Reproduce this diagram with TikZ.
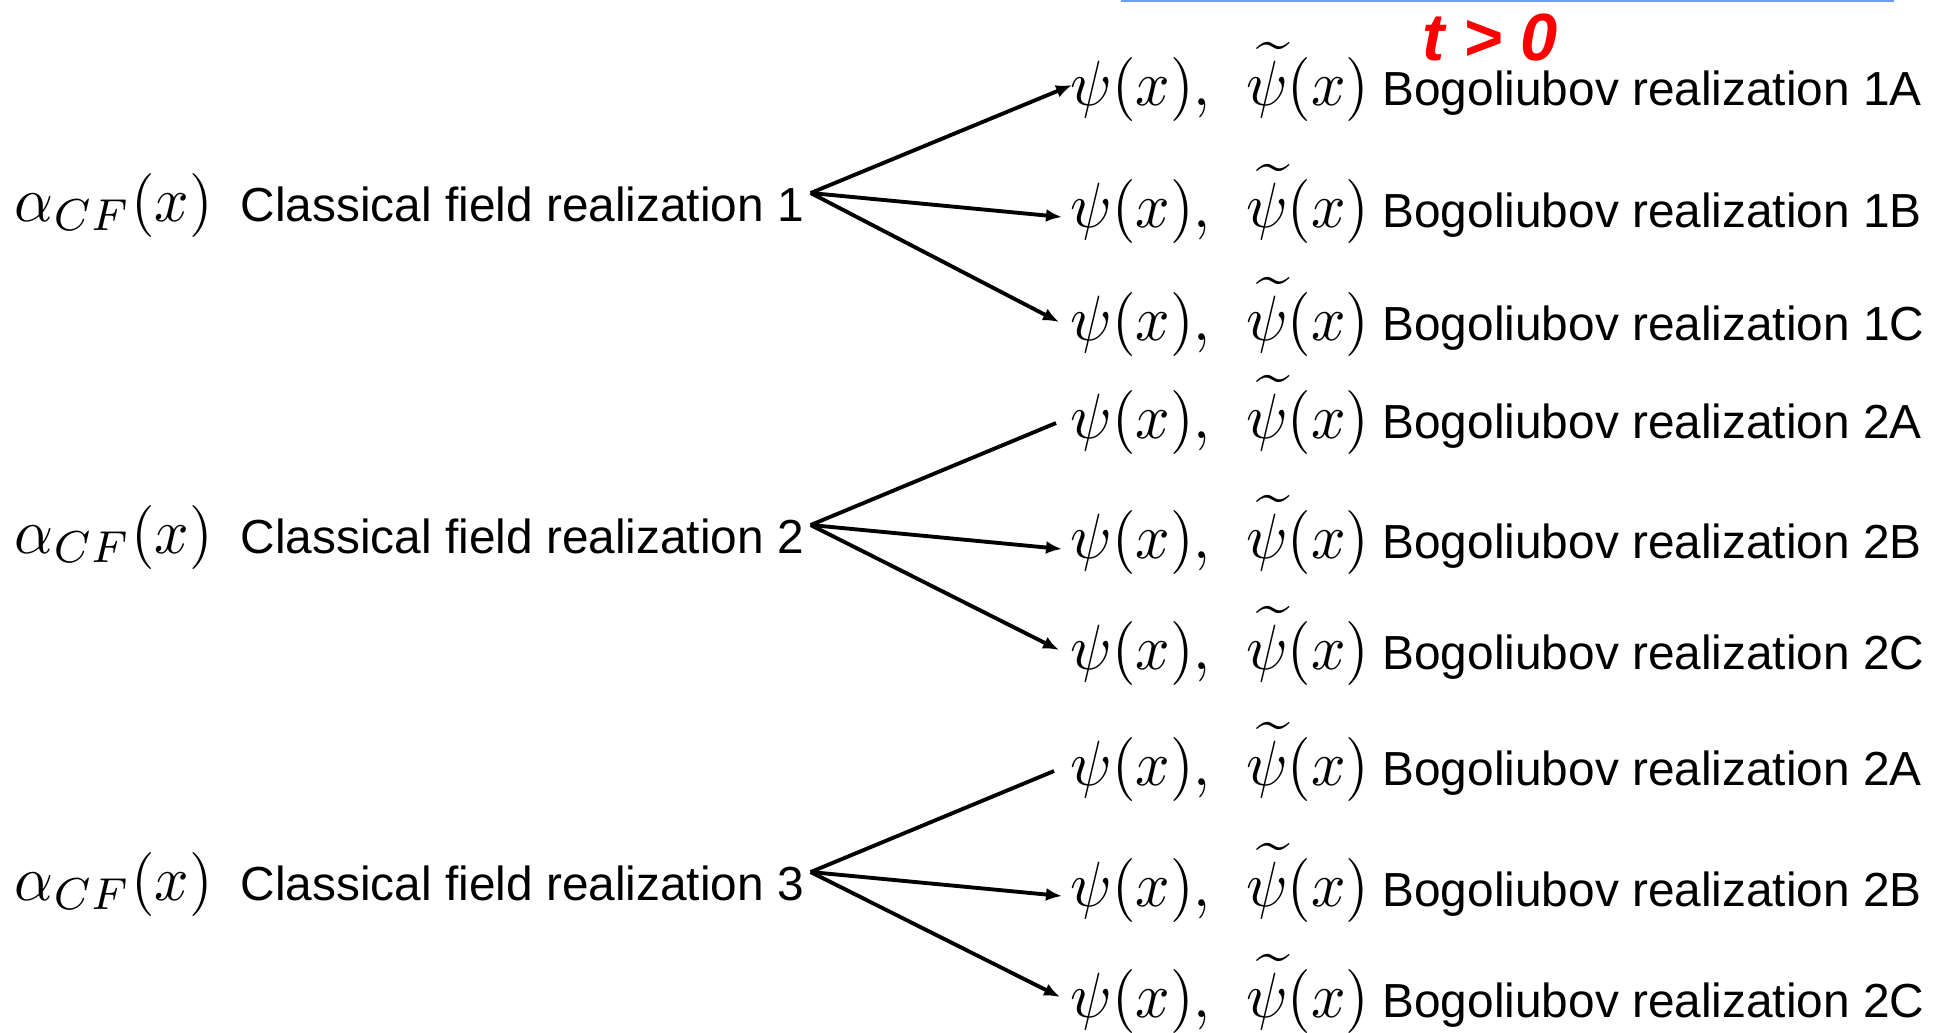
\documentclass[tikz,border=0pt]{standalone}
\usepackage{amsmath}
\usepackage{graphicx}
\usepackage{fontspec}
\newfontfamily\arialfont{Liberation Sans}
\usetikzlibrary{arrows.meta}
\definecolor{slideblue}{RGB}{110,155,245}
\definecolor{slidered}{RGB}{255,0,0}
\newcommand{\bigmath}[1]{\scalebox{1.72}[1.82]{\fontsize{10}{12}\selectfont$#1$}}
\newcommand{\fieldpair}{\bigmath{\psi(x),\hspace{0.42em}\widetilde{\psi}(x)}}

\begin{document}
\begin{tikzpicture}[
    amp/.style={anchor=base west, inner sep=0pt},
    cfield/.style={anchor=base west, inner sep=0pt,
        font=\arialfont\fontsize{13.6}{16}\selectfont},
    bogo/.style={anchor=base west, inner sep=0pt,
        font=\arialfont\fontsize{13.6}{16}\selectfont},
    tlabel/.style={anchor=base, inner sep=0pt, text=slidered,
        font=\arialfont\bfseries\itshape\fontsize{19}{22}\selectfont},
    topline/.style={slideblue, line width=0.6pt},
    branch/.style={-{Latex[length=0.16cm,width=0.13cm]}, line width=1.1pt},
    stub/.style={-, line width=1.1pt},
]
\useasboundingbox (0,0) rectangle (19.44,-10.32);

% --- Coordenadas ---
\def\xamp{0.14}
\def\xcf{2.40}
\def\xb{10.70}

\def\yone{-2.21}
\def\ytwo{-5.53}
\def\ythree{-9.00}

% --- Cabecera ---
\draw[topline] (11.21,-0.01) -- (18.94,-0.01);
\node[tlabel] (tpos) at (14.90,-0.60) {t > 0};

% --- Realizaciones clasicas ---
\node[amp]    (amp1) at (\xamp, \yone)   {\bigmath{\alpha_{CF}(x)}};
\node[cfield] (cf1)  at (\xcf,  \yone)   {Classical field realization 1};
\node[amp]    (amp2) at (\xamp, \ytwo)   {\bigmath{\alpha_{CF}(x)}};
\node[cfield] (cf2)  at (\xcf,  \ytwo)   {Classical field realization 2};
\node[amp]    (amp3) at (\xamp, \ythree) {\bigmath{\alpha_{CF}(x)}};
\node[cfield] (cf3)  at (\xcf,  \ythree) {Classical field realization 3};

\coordinate (fork1) at ([xshift=0.06cm, yshift=0.28cm]cf1.base east);
\coordinate (fork2) at ([xshift=0.06cm, yshift=0.28cm]cf2.base east);
\coordinate (fork3) at ([xshift=0.06cm, yshift=0.28cm]cf3.base east);

% --- Realizaciones de Bogoliubov ---
\node[bogo] (b1A) at (\xb, -1.05)  {\fieldpair\ Bogoliubov realization 1A};
\node[bogo] (b1B) at (\xb, -2.27)  {\fieldpair\ Bogoliubov realization 1B};
\node[bogo] (b1C) at (\xb, -3.40)  {\fieldpair\ Bogoliubov realization 1C};
\node[bogo] (b2A) at (\xb, -4.38)  {\fieldpair\ Bogoliubov realization 2A};
\node[bogo] (b2B) at (\xb, -5.58)  {\fieldpair\ Bogoliubov realization 2B};
\node[bogo] (b2C) at (\xb, -6.69)  {\fieldpair\ Bogoliubov realization 2C};
\node[bogo] (b3A) at (\xb, -7.85)  {\fieldpair\ Bogoliubov realization 2A};
\node[bogo] (b3B) at (\xb, -9.06)  {\fieldpair\ Bogoliubov realization 2B};
\node[bogo] (b3C) at (\xb, -10.17) {\fieldpair\ Bogoliubov realization 2C};

% --- Ramas ---
\draw[branch] (fork1) -- ([xshift=0.02cm,  yshift=0.20cm]b1A.base west);
\draw[branch] (fork1) -- ([xshift=-0.08cm, yshift=0.10cm]b1B.base west);
\draw[branch] (fork1) -- ([xshift=-0.11cm, yshift=0.18cm]b1C.base west);

\draw[stub]   (fork2) -- ([xshift=-0.14cm, yshift=0.15cm]b2A.base west);
\draw[branch] (fork2) -- ([xshift=-0.08cm, yshift=0.09cm]b2B.base west);
\draw[branch] (fork2) -- ([xshift=-0.11cm, yshift=0.19cm]b2C.base west);

\draw[stub]   (fork3) -- ([xshift=-0.16cm, yshift=0.14cm]b3A.base west);
\draw[branch] (fork3) -- ([xshift=-0.08cm, yshift=0.10cm]b3B.base west);
\draw[branch] (fork3) -- ([xshift=-0.10cm, yshift=0.20cm]b3C.base west);

\end{tikzpicture}
\end{document}
